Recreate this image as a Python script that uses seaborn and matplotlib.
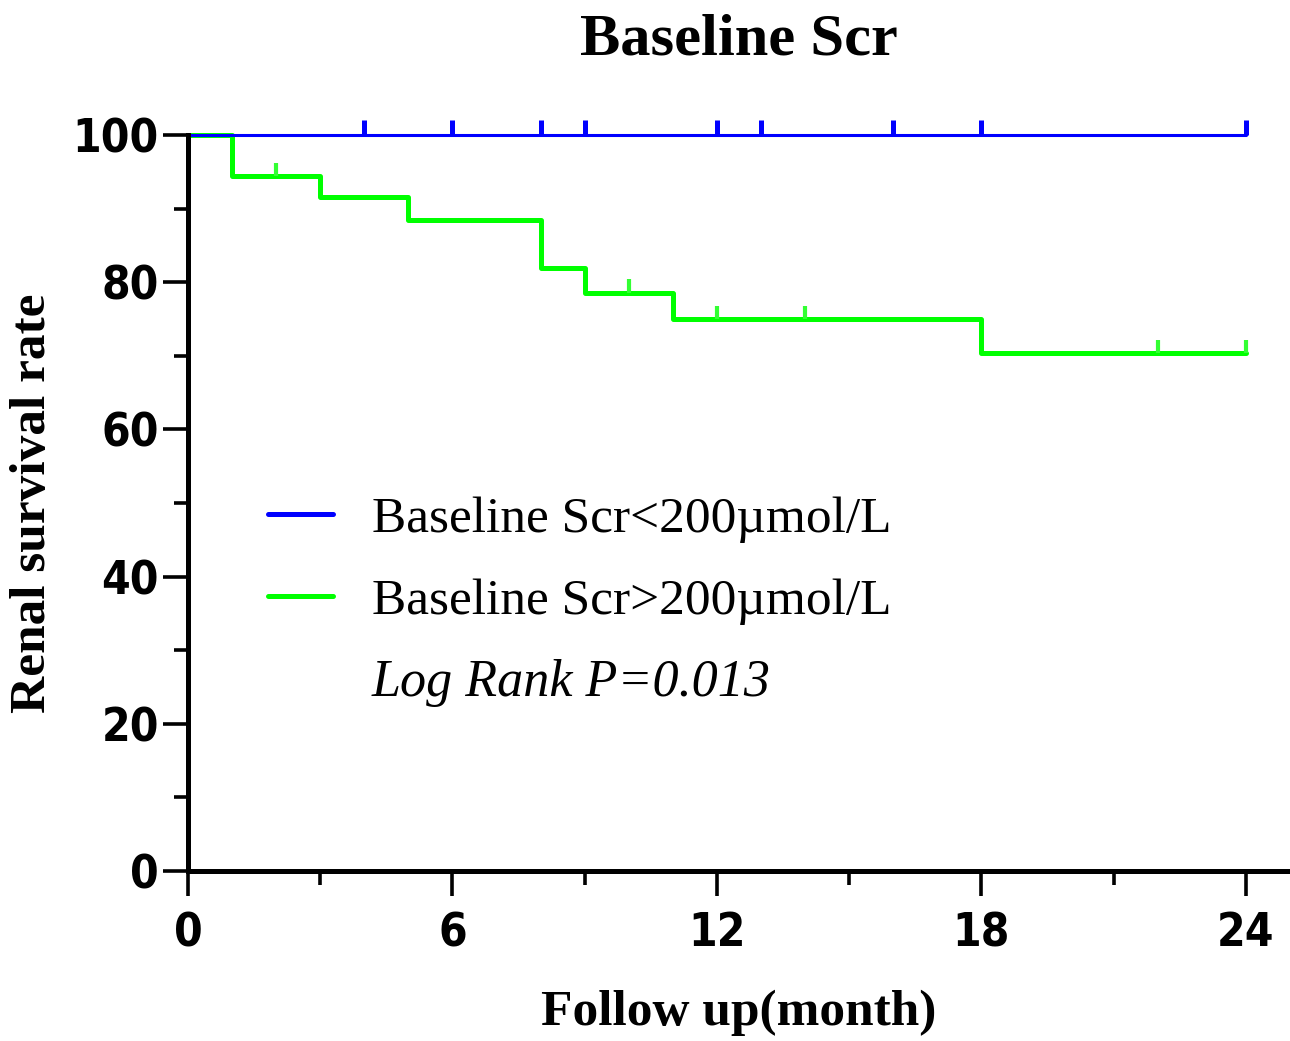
import numpy as np
import pandas as pd
import matplotlib
matplotlib.use("Agg")
import matplotlib.pyplot as plt
import seaborn as sns
from matplotlib.lines import Line2D

# Kaplan-Meier steps (month, survival %)
low_time = [0, 24]
low_surv = [100, 100]
low_censor = [4, 6, 8, 9, 12, 13, 16, 18, 24]

high_time = [0, 1, 3, 5, 8, 9, 11, 18, 24]
high_surv = [100, 94.4, 91.6, 88.4, 81.9, 78.6, 75.0, 70.4, 70.4]
high_censor = [2, 10, 12, 14, 22, 24]

labels = ["Baseline Scr<200\u00b5mol/L", "Baseline Scr>200\u00b5mol/L"]
colors = ["#0000FF", "#00FF00"]
x_ticks = [0, 6, 12, 18, 24]
y_ticks = [0, 20, 40, 60, 80, 100]

sns.set_theme(style="ticks")
plt.rcParams["font.family"] = ["Liberation Serif", "DejaVu Serif"]
plt.rcParams["text.color"] = "black"
plt.rcParams["axes.labelcolor"] = "black"
plt.rcParams["xtick.color"] = "black"
plt.rcParams["ytick.color"] = "black"

df_low = pd.DataFrame({"time": low_time, "surv": low_surv})
df_high = pd.DataFrame({"time": high_time, "surv": high_surv})

fig = plt.figure(figsize=(12.9, 10.41), dpi=100)
ax = fig.add_axes([0.1457, 0.1633, 0.8543, 0.707])

sns.lineplot(data=df_high, x="time", y="surv", ax=ax, color=colors[1],
             drawstyle="steps-post", lw=3.6, estimator=None, clip_on=False)
sns.lineplot(data=df_low, x="time", y="surv", ax=ax, color=colors[0],
             drawstyle="steps-post", lw=2.2, estimator=None, clip_on=False)

# censor marks, sitting on top of each curve
def level_at(t, times, surv):
    idx = np.searchsorted(times, t, side="right") - 1
    return surv[idx]

lo_y = [level_at(t, low_time, low_surv) for t in low_censor]
hi_y = [level_at(t, high_time, high_surv) for t in high_censor]
ax.vlines(low_censor, lo_y, np.array(lo_y) + 2.0, colors=colors[0], lw=3.6, clip_on=False)
ax.vlines(high_censor, hi_y, np.array(hi_y) + 1.8, colors="#33FF33", lw=3.0, clip_on=False)

ax.set_xlim(0, 25)
ax.set_ylim(0, 100)
ax.set_xticks(x_ticks)
ax.set_xticks([3, 9, 15, 21], minor=True)
ax.set_yticks(y_ticks)
ax.set_yticks([10, 30, 50, 70, 90], minor=True)
sns.despine(ax=ax)
for s in ["left", "bottom"]:
    ax.spines[s].set_linewidth(3.6)
    ax.spines[s].set_color("black")
ax.tick_params(which="major", length=18, width=2.6)
ax.tick_params(which="minor", length=10, width=2.6)
ax.tick_params(axis="x", which="major", pad=11)
ax.tick_params(axis="y", which="major", pad=3)
for lab in ax.get_xticklabels() + ax.get_yticklabels():
    lab.set_family(["DejaVu Sans"])
    lab.set_fontstretch("condensed")
    lab.set_fontweight("bold")
    lab.set_fontsize(33)

ax.set_xlabel("Follow up(month)", fontsize=37, fontweight="bold", labelpad=24)
ax.set_ylabel("Renal survival rate", fontsize=37, fontweight="bold", labelpad=12)
ax.set_title("Baseline Scr", fontsize=43.5, fontweight="bold", pad=58)

handles = [Line2D([], [], color=c, lw=3.6) for c in colors]
leg = ax.legend(handles, labels, loc="upper left", bbox_to_anchor=(0.0726, 0.51),
                frameon=False, fontsize=37, handlelength=1.27, handletextpad=0.76,
                labelspacing=0.69, borderaxespad=0, borderpad=0)
ax.text(0.167, 0.255, "Log Rank P=0.013", transform=ax.transAxes,
        fontsize=37.5, fontstyle="italic", va="center", ha="left")

fig.savefig("out.png", dpi=100)
